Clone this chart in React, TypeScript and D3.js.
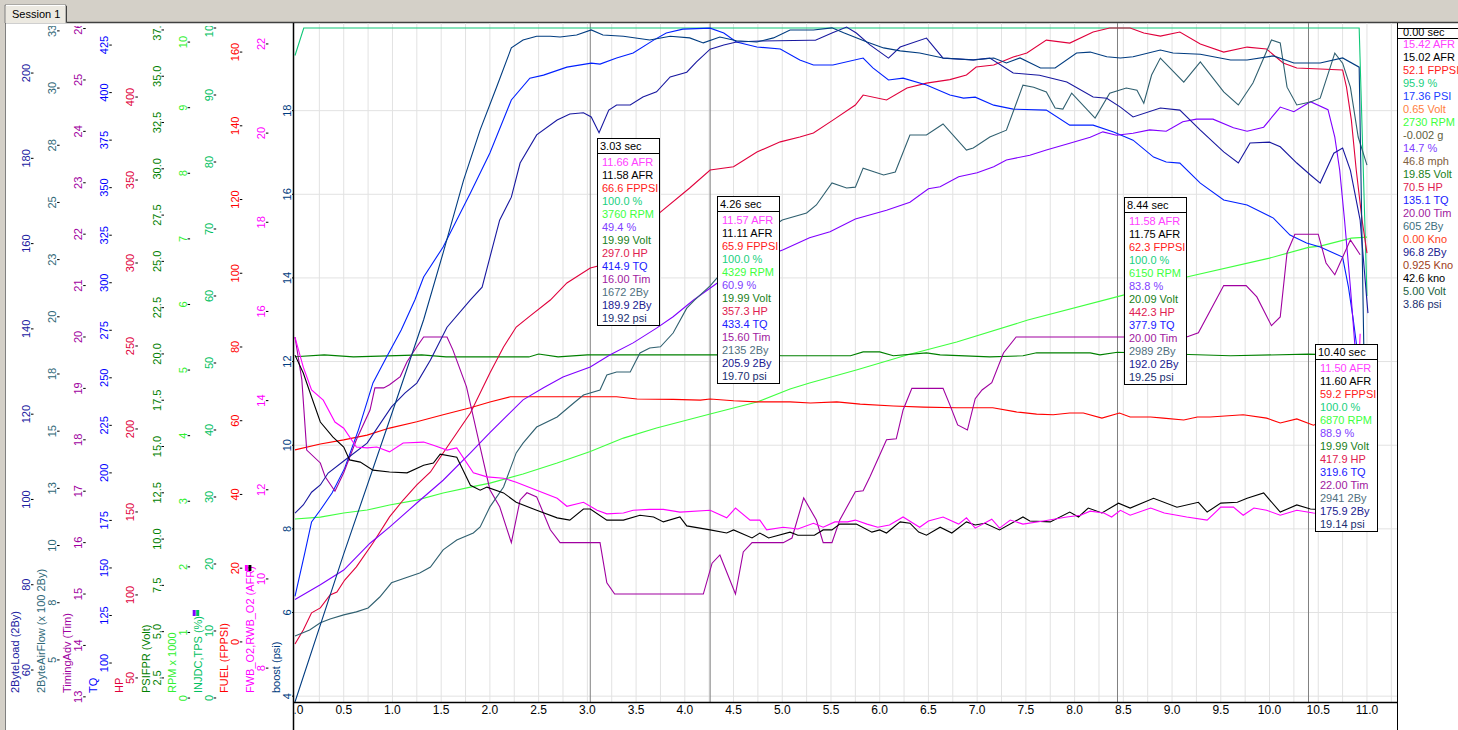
import * as d3 from 'd3';

type Pt = [number, number];

// [time s, value]
const boostPsi: Pt[] = [[0,3.86],[0.5,7.4],[1.0,10.8],[1.32,13.0],[1.52,14.6],[1.73,16.34],[1.9,17.54],[2.07,18.57],[2.22,19.5],[2.34,19.69],[2.48,19.78],[2.62,19.78],[2.72,19.76],[2.89,19.81],[3.04,19.93],[3.16,19.81],[3.37,19.78],[3.64,19.69],[3.85,19.78],[4.05,19.74],[4.19,19.62],[4.36,19.76],[4.53,19.67],[4.74,19.64],[4.91,19.74],[5.08,19.93],[5.32,19.93],[5.51,19.98],[5.63,19.86],[5.87,19.64],[6.04,19.5],[6.21,19.43],[6.41,19.38],[6.65,19.26],[6.96,19.21],[7.17,19.26],[7.3,19.14],[7.44,19.26],[7.65,19.02],[7.8,19.02],[8.02,19.38],[8.16,19.4],[8.33,19.29],[8.47,19.26],[8.6,19.29],[8.88,19.45],[9.01,19.38],[9.29,19.35],[9.6,19.21],[9.77,19.21],[10.04,19.31],[10.25,19.14],[10.52,19.14],[10.75,19.26],[10.92,19.04],[10.98,10.6]];

const load2By: Pt[] = [[0,96.8],[0.085,98.7],[0.17,101.7],[0.26,103.4],[0.34,106.2],[0.51,109.2],[0.74,113.2],[0.99,121.7],[1.13,125],[1.25,127.3],[1.39,132.7],[1.56,140.4],[1.8,146.8],[1.92,149.8],[2.1,165.5],[2.22,170.9],[2.31,178.9],[2.48,185.5],[2.69,189],[2.82,190.4],[2.96,190.7],[3.04,189.7],[3.12,186],[3.22,191.3],[3.3,192.5],[3.44,192.5],[3.57,194.4],[3.71,195.6],[3.85,199.1],[4.02,200.2],[4.12,202.6],[4.26,205.6],[4.4,206.6],[4.53,207.3],[4.77,207.5],[5.28,207.7],[5.34,207.7],[5.51,209.4],[5.66,210.8],[5.76,209.4],[5.9,206.6],[6.09,203.5],[6.21,206.1],[6.48,208.2],[6.65,203.5],[6.96,203.1],[7.13,203.5],[7.37,200],[7.64,199.5],[7.92,197.9],[8.19,194.4],[8.33,194.1],[8.47,192],[8.6,189.7],[8.88,191.8],[9.08,191.3],[9.29,186.6],[9.53,181.5],[9.68,178.9],[9.8,183.6],[10.0,183.8],[10.11,182.7],[10.28,178.9],[10.42,176.1],[10.52,174.2],[10.66,181.2],[10.75,182.4],[10.83,177.2],[10.93,165.5],[11.01,143.7]];

const torque: Pt[] = [[0,135.1],[0.1,157.8],[0.17,174.2],[0.26,180.5],[0.38,189.4],[0.51,202.5],[0.65,222.5],[0.8,247.3],[0.94,260.9],[1.09,275.1],[1.23,290.9],[1.32,303],[1.52,318.8],[1.8,347.2],[2.0,368.2],[2.22,396.1],[2.41,407.6],[2.55,409.2],[2.79,413.4],[3.04,415.5],[3.13,415],[3.3,418.2],[3.47,420.8],[3.68,427.6],[3.81,431.3],[3.98,433.4],[4.26,433.9],[4.4,431.3],[4.53,426.6],[4.74,424],[4.98,422.9],[5.18,417.1],[5.32,414.5],[5.52,414.5],[5.83,418.2],[5.93,413],[6.09,406.6],[6.24,407.6],[6.48,404],[6.72,398.7],[6.86,397.1],[6.98,397.6],[7.17,393.4],[7.37,391.3],[7.71,390.8],[7.95,382.9],[8.19,382.9],[8.4,379.3],[8.6,375],[8.81,366.1],[8.94,363.5],[9.08,362.9],[9.29,352.4],[9.53,343.5],[9.77,340.9],[10.04,334],[10.21,325.1],[10.38,320.9],[10.52,318.8],[10.75,313.5],[10.81,297.7],[10.86,280.4],[10.9,264.6],[10.93,232]];

const power: Pt[] = [[0,70.5],[0.085,78.9],[0.17,89.2],[0.26,92.2],[0.36,100],[0.43,101.8],[0.51,109],[0.63,116.9],[0.8,131.3],[0.97,147],[1.11,157.2],[1.25,166.3],[1.39,174.1],[1.52,185.5],[1.66,197.6],[1.8,209.6],[2.0,233.7],[2.14,249.4],[2.27,261.4],[2.41,268],[2.62,277.7],[2.79,288],[3.03,297],[3.1,298],[3.75,330.7],[4.05,345.2],[4.26,356],[4.5,358],[4.74,366.9],[4.98,373],[5.18,375.9],[5.32,378.3],[5.52,386.1],[5.75,395.2],[5.83,401.2],[6.07,398.2],[6.28,405.4],[6.48,408.4],[6.72,410.5],[6.89,413.3],[6.99,418.1],[7.17,419.3],[7.37,424.1],[7.51,426.5],[7.71,434.3],[7.95,432.5],[8.19,439.2],[8.36,441.6],[8.57,441.6],[8.71,438.6],[8.88,436.7],[9.08,439.2],[9.29,431.9],[9.53,427.1],[9.77,430.1],[9.97,428.9],[10.14,420.5],[10.28,417.5],[10.52,416.9],[10.75,416.3],[10.79,406],[10.84,386.1],[10.89,356],[10.95,325.9],[11.0,306]];

const fuelPress: Pt[] = [[0,52.1],[0.26,53.7],[0.5,54.8],[0.74,56.1],[0.97,58],[1.25,59.7],[1.52,61.6],[1.8,63.5],[2.0,65.1],[2.21,66.5],[3.3,66.5],[3.51,65.9],[3.88,65.8],[4.16,65.6],[4.26,65.9],[4.5,65.4],[4.74,65.1],[5.08,65.1],[5.29,64.8],[5.56,65.1],[5.8,64.5],[6.14,64],[6.45,63.7],[6.79,63.5],[7.16,63.5],[7.4,62.4],[7.61,61.8],[7.78,61.6],[7.95,62.1],[8.09,62.1],[8.28,60.7],[8.46,62.1],[8.57,61],[8.78,61],[8.91,60.7],[9.12,60.2],[9.26,61],[9.39,61],[9.73,61.6],[9.97,60.7],[10.11,59.4],[10.28,60.5],[10.45,58.8],[10.59,60.2],[10.75,60],[10.92,59.5]];

const fprVolt: Pt[] = [[0,19.85],[0.3,19.95],[0.6,19.84],[1.3,19.95],[1.55,19.84],[2.4,19.84],[2.5,20.0],[2.7,19.84],[3.0,19.95],[4.6,19.95],[5.0,19.9],[5.7,19.9],[5.83,20.11],[6.0,20.11],[6.14,19.9],[6.48,20.06],[6.62,19.95],[7.13,19.84],[7.47,19.9],[7.61,20.06],[8.16,20.06],[8.26,19.95],[8.44,20.09],[9.0,20.0],[9.6,19.9],[10.4,19.99],[10.92,19.9]];

const rpm: Pt[] = [[0,2730],[0.26,2759],[0.5,2820],[0.74,2866],[0.97,2942],[1.25,3018],[1.52,3125],[1.8,3216],[2.0,3277],[2.34,3415],[2.69,3582],[3.03,3760],[3.37,3963],[3.71,4116],[4.26,4329],[4.74,4512],[5.08,4710],[5.28,4802],[5.76,5000],[6.28,5229],[6.79,5427],[7.52,5762],[8.5,6143],[9.15,6418],[10.0,6707],[10.4,6870],[10.52,6890],[10.84,7012],[11.0,7027]];

const throttle: Pt[] = [[0,95.9],[0.09,100],[10.92,100],[11.0,60]];

const injDuty: Pt[] = [[0,14.7],[0.26,16.9],[0.5,19.1],[0.77,23.1],[0.97,25.5],[1.25,29.1],[1.52,32.5],[1.8,36.6],[2.0,39.6],[2.34,44.5],[2.55,46.3],[2.75,47.9],[3.03,49.4],[3.23,51.2],[3.47,53],[3.71,55.2],[3.88,56.9],[4.09,59.4],[4.33,61.9],[4.74,65.4],[5.01,66.9],[5.28,68.7],[5.49,69.6],[5.75,71.5],[6.07,72.8],[6.31,74],[6.5,76],[6.62,76.3],[6.81,77.8],[7.0,78.4],[7.17,79.3],[7.3,80.3],[7.54,81],[7.71,81.8],[7.95,82.8],[8.16,83.7],[8.29,84.5],[8.43,84],[8.6,84.3],[8.77,84.8],[8.94,84.6],[9.11,86],[9.25,86.4],[9.42,86.4],[9.63,85.1],[9.77,84.6],[9.94,85.2],[10.11,88.2],[10.25,87.5],[10.42,89],[10.6,87.8],[10.67,83.7],[10.72,78.8],[10.77,71.3],[10.83,61.3],[10.88,51.9],[10.91,43]];

const timing: Pt[] = [[0,20.0],[0.07,19.17],[0.12,17.8],[0.26,17.55],[0.31,17.28],[0.41,17.0],[0.5,17.36],[0.63,18.0],[0.77,18.58],[0.82,19.01],[0.91,19.01],[0.97,19.07],[1.08,19.23],[1.15,19.52],[1.25,19.81],[1.32,20.0],[1.56,20.0],[1.62,19.75],[1.76,19.03],[1.9,17.86],[2.0,17.03],[2.1,16.7],[2.22,16.0],[2.31,16.83],[2.38,16.97],[2.48,16.89],[2.62,16.25],[2.72,16.0],[3.13,16.0],[3.2,15.22],[3.28,15.0],[4.19,15.0],[4.28,15.6],[4.36,15.76],[4.52,15.0],[4.6,15.82],[4.69,16.0],[5.01,16.0],[5.1,16.09],[5.22,16.87],[5.35,16.44],[5.42,16.0],[5.51,16.0],[5.59,16.44],[5.75,16.99],[5.83,17.01],[5.9,17.28],[6.07,18.0],[6.17,18.02],[6.24,18.58],[6.33,19.0],[6.65,19.0],[6.72,18.68],[6.8,18.29],[6.9,18.19],[6.98,18.8],[7.05,18.97],[7.15,19.11],[7.27,19.69],[7.4,20.0],[9.15,20.0],[9.27,20.08],[9.53,21.0],[9.76,21.0],[9.87,20.78],[10.02,20.22],[10.11,20.39],[10.18,21.64],[10.26,22.0],[10.5,22.0],[10.58,21.44],[10.67,21.21],[10.83,21.89],[10.93,21.6]];

const airflow2By: Pt[] = [[0,605],[0.15,631],[0.26,662],[0.36,679],[0.5,697],[0.63,710],[0.75,727],[0.87,775],[0.99,837],[1.13,858],[1.28,880],[1.39,906],[1.52,981],[1.66,1024],[1.83,1055],[1.9,1081],[2.0,1169],[2.14,1256],[2.27,1405],[2.34,1448],[2.48,1518],[2.69,1562],[2.86,1623],[2.96,1658],[3.13,1680],[3.2,1746],[3.3,1759],[3.44,1759],[3.54,1842],[3.64,1864],[3.75,1869],[3.88,1929],[4.02,2038],[4.1,2073],[4.26,2135],[4.4,2204],[4.6,2292],[4.8,2366],[5.0,2423],[5.25,2454],[5.35,2489],[5.51,2585],[5.66,2563],[5.75,2567],[5.83,2650],[6.04,2620],[6.16,2633],[6.31,2795],[6.48,2795],[6.65,2843],[6.89,2729],[6.96,2738],[7.13,2786],[7.3,2816],[7.47,3013],[7.58,3004],[7.71,2983],[7.8,2913],[7.88,2908],[7.97,2978],[8.21,2869],[8.36,2978],[8.53,3000],[8.64,2991],[8.71,2934],[8.79,3057],[8.88,3131],[9.12,3026],[9.29,3114],[9.53,2983],[9.68,2926],[9.83,3022],[10.02,3210],[10.11,3197],[10.18,3004],[10.28,2926],[10.42,2939],[10.52,2956],[10.67,3153],[10.75,3109],[10.83,3004],[10.91,2786],[11.0,2663]];

const afrFront: Pt[] = [[0,15.42],[0.085,14.75],[0.17,14.24],[0.29,14.01],[0.41,13.52],[0.5,13.38],[0.63,12.96],[0.74,12.94],[0.84,12.96],[0.97,12.85],[1.11,13.05],[1.32,13.07],[1.42,13.0],[1.56,12.89],[1.66,12.94],[1.83,12.38],[1.97,12.29],[2.14,12.26],[2.27,12.17],[2.48,11.99],[2.69,11.81],[2.79,11.63],[2.96,11.72],[3.1,11.54],[3.2,11.46],[3.37,11.48],[3.47,11.54],[3.64,11.56],[3.78,11.56],[3.95,11.5],[4.26,11.54],[4.43,11.37],[4.52,11.59],[4.67,11.32],[4.77,11.32],[4.84,11.1],[5.01,11.16],[5.16,11.12],[5.32,11.25],[5.42,11.16],[5.54,11.28],[5.67,11.28],[5.75,11.32],[5.87,11.23],[5.98,11.16],[6.1,11.21],[6.24,11.39],[6.41,11.16],[6.5,11.3],[6.65,11.39],[6.81,11.23],[6.89,11.37],[6.98,11.14],[7.15,11.34],[7.23,11.14],[7.34,11.32],[7.47,11.23],[7.68,11.3],[7.92,11.39],[8.06,11.43],[8.16,11.52],[8.3,11.48],[8.38,11.39],[8.47,11.54],[8.57,11.43],[8.78,11.59],[8.92,11.48],[9.05,11.43],[9.15,11.39],[9.36,11.32],[9.5,11.61],[9.63,11.61],[9.73,11.43],[9.84,11.59],[9.97,11.54],[10.11,11.43],[10.28,11.54],[10.45,11.48],[10.6,11.45],[10.8,11.5],[10.88,12.6],[10.93,15.5]];

const afrRear: Pt[] = [[0,15.02],[0.085,14.62],[0.17,14.08],[0.26,13.52],[0.39,13.18],[0.5,12.96],[0.56,12.67],[0.67,12.62],[0.8,12.44],[0.97,12.4],[1.15,12.38],[1.32,12.55],[1.42,12.6],[1.49,12.8],[1.66,12.73],[1.8,12.1],[1.9,11.99],[1.97,12.06],[2.14,11.93],[2.27,11.72],[2.48,11.54],[2.69,11.37],[2.82,11.32],[2.96,11.57],[3.03,11.57],[3.2,11.32],[3.37,11.32],[3.54,11.43],[3.68,11.39],[3.78,11.28],[3.95,11.39],[4.02,11.19],[4.26,11.1],[4.43,11.03],[4.5,11.1],[4.69,10.92],[4.77,11.03],[4.86,10.92],[5.08,11.05],[5.16,10.98],[5.33,10.98],[5.42,11.1],[5.51,11.1],[5.59,11.23],[5.76,11.23],[5.92,11.05],[6.0,11.1],[6.07,11.03],[6.21,11.28],[6.31,11.25],[6.4,11.05],[6.48,10.98],[6.62,11.16],[6.74,11.03],[6.89,11.28],[6.98,11.21],[7.08,11.25],[7.23,11.1],[7.47,11.39],[7.54,11.3],[7.75,11.28],[7.95,11.5],[8.04,11.39],[8.14,11.59],[8.28,11.48],[8.45,11.7],[8.57,11.59],[8.81,11.81],[9.05,11.61],[9.27,11.72],[9.36,11.5],[9.5,11.7],[9.67,11.72],[9.77,11.81],[9.94,11.93],[10.11,11.5],[10.28,11.66],[10.42,11.57],[10.6,11.55],[10.8,11.6],[10.9,12.8],[10.96,15.2]];

// tick labels
const xTicks = [0, 0.5, 1, 1.5, 2, 2.5, 3, 3.5, 4, 4.5, 5, 5.5, 6, 6.5, 7, 7.5, 8, 8.5, 9, 9.5, 10, 10.5, 11];
const loadTicks = [60, 80, 100, 120, 140, 160, 180, 200];
const airTicks = [5, 7.5, 10, 12.5, 15, 17.5, 20, 22.5, 25, 27.5, 30, 32.5];
const timingTicks = [13, 14, 15, 16, 17, 18, 19, 20, 21, 22, 23, 24, 25, 26];
const tqTicks = [100, 125, 150, 175, 200, 225, 250, 275, 300, 325, 350, 375, 400, 425];
const hpTicks = [50, 100, 150, 200, 250, 300, 350, 400];
const fprTicks = [2.5, 5, 7.5, 10, 12.5, 15, 17.5, 20, 22.5, 25, 27.5, 30, 32.5, 35, 37.5];
const rpmTicks = [0, 1, 2, 3, 4, 5, 6, 7, 8, 9, 10];
const dutyTicks = [0, 10, 20, 30, 40, 50, 60, 70, 80, 90, 100];
const fuelTicks = [0, 20, 40, 60, 80, 100, 120, 140, 160];
const afrTicks = [8, 10, 12, 14, 16, 18, 20, 22];
const boostTicks = [4, 6, 8, 10, 12, 14, 16, 18];

// cursors and their readouts
const cursorTimes = [3.03, 4.26, 8.44, 10.4];
const tipUnits = ['AFR', 'AFR', 'FPPSI', '%', 'RPM', '%', 'Volt', 'HP', 'TQ', 'Tim', '2By', '2By', 'psi'];
const tipValues = [
  ['11.66', '11.58', '66.6', '100.0', '3760', '49.4', '19.99', '297.0', '414.9', '16.00', '1672', '189.9', '19.92'],
  ['11.57', '11.11', '65.9', '100.0', '4329', '60.9', '19.99', '357.3', '433.4', '15.60', '2135', '205.9', '19.70'],
  ['11.58', '11.75', '62.3', '100.0', '6150', '83.8', '20.09', '442.3', '377.9', '20.00', '2989', '192.0', '19.25'],
  ['11.50', '11.60', '59.2', '100.0', '6870', '88.9', '19.99', '417.9', '319.6', '22.00', '2941', '175.9', '19.14'],
];
const tipColors = ['#ff40ff', '#000000', '#ff2020', '#20d080', '#40ff40', '#8040ff', '#208020', '#e02050', '#2020ff', '#a020a0', '#507080', '#202090', '#203070'];
const tipTops = [138, 196, 197, 344];

const legendTexts = ['15.42 AFR', '15.02 AFR', '52.1 FPPSI', '95.9 %', '17.36 PSI', '0.65 Volt', '2730 RPM', '-0.002 g', '14.7 %', '46.8 mph', '19.85 Volt', '70.5 HP', '135.1 TQ', '20.00 Tim', '605 2By', '0.00 Kno', '96.8 2By', '0.925 Kno', '42.6 kno', '5.00 Volt', '3.86 psi'];
const legendColors = ['#ff40ff', '#000000', '#ff2020', '#20d080', '#2040ff', '#ff8040', '#40ff40', '#606040', '#8040ff', '#806040', '#208020', '#e02050', '#2020ff', '#a020a0', '#407080', '#ff4020', '#202090', '#a04020', '#000000', '#206040', '#203070'];

const FONT = "'Liberation Sans', Arial, sans-serif";
const TOP = 27;
const BOTTOM = 702;

const num = (v: number) => String(v);
const axes = [
  { key: 'load', title: '2ByteLoad (2By)', color: '#2020a0', domain: [52.5, 210.8], ticks: loadTicks, fmt: num },
  { key: 'air', title: '2ByteAirFlow (x 100 2By)', color: '#306878', domain: [3.16, 32.67], ticks: airTicks, fmt: (v: number) => String(Math.round(v)) },
  { key: 'timing', title: 'TimingAdv (Tim)', color: '#a000a0', domain: [12.9, 26.03], ticks: timingTicks, fmt: num },
  { key: 'tq', title: 'TQ', color: '#0000ff', domain: [79.5, 434.5], ticks: tqTicks, fmt: num },
  { key: 'hp', title: 'HP', color: '#e0003c', domain: [35.5, 442.2], ticks: hpTicks, fmt: num },
  { key: 'fpr', title: 'PSIFPR (Volt)', color: '#008000', domain: [1.2, 37.66], ticks: fprTicks, fmt: (v: number) => v.toFixed(1) },
  { key: 'rpm', title: 'RPM x 1000', color: '#30f030', domain: [-0.06, 10.23], ticks: rpmTicks, fmt: num },
  { key: 'duty', title: 'INJDC,TPS (%)', color: '#00c060', domain: [-0.6, 100.15], ticks: dutyTicks, fmt: num, marks: ['#8000ff', '#00c060'], markY: 610 },
  { key: 'fuel', title: 'FUEL (FPPSI)', color: '#ff0000', domain: [-16.3, 166.8], ticks: fuelTicks, fmt: num },
  { key: 'afr', title: 'FWB_O2,RWB_O2 (AFR)', color: '#ff00ff', domain: [7.24, 22.38], ticks: afrTicks, fmt: num, marks: ['#ff00ff', '#000000'], markY: 565 },
  { key: 'boost', title: 'boost (psi)', color: '#003c80', domain: [3.86, 20], ticks: boostTicks, fmt: num },
];

const series = [
  { data: throttle, axis: 'duty', div: 1, color: '#10c878' },
  { data: rpm, axis: 'rpm', div: 1000, color: '#40ff40' },
  { data: fprVolt, axis: 'fpr', div: 1, color: '#008000' },
  { data: fuelPress, axis: 'fuel', div: 1, color: '#ff0000' },
  { data: power, axis: 'hp', div: 1, color: '#e0003c' },
  { data: torque, axis: 'tq', div: 1, color: '#0020ff' },
  { data: injDuty, axis: 'duty', div: 1, color: '#8000ff' },
  { data: timing, axis: 'timing', div: 1, color: '#a000a0' },
  { data: airflow2By, axis: 'air', div: 100, color: '#306070' },
  { data: load2By, axis: 'load', div: 1, color: '#1818a0' },
  { data: boostPsi, axis: 'boost', div: 1, color: '#003c80' },
  { data: afrRear, axis: 'afr', div: 1, color: '#000000' },
  { data: afrFront, axis: 'afr', div: 1, color: '#ff00ff' },
];

export default function App() {
  const x = d3.scaleLinear().domain([0, 11.3]).range([295, 1396.2]);
  const y: Record<string, d3.ScaleLinear<number, number>> = {};
  axes.forEach((a) => {
    y[a.key] = d3.scaleLinear().domain(a.domain).range([BOTTOM, TOP]);
  });
  const gridX = d3.range(0.25, 11.3, 0.25);

  return (
    <>
      <style>{'body{margin:0}'}</style>
      <svg width={1458} height={730} style={{ display: 'block', fontFamily: FONT }}>
        <defs>
          <clipPath id="plotClip">
            <rect x={294} y={23} width={1103} height={BOTTOM - 23} />
          </clipPath>
          <clipPath id="leftClip">
            <rect x={6} y={26} width={288} height={704} />
          </clipPath>
          <clipPath id="xClip">
            <rect x={294.5} y={703} width={1102} height={27} />
          </clipPath>
        </defs>

        {/* window chrome */}
        <rect width={1458} height={730} fill="#d4d0c8" />
        <rect x={6} y={23} width={1452} height={707} fill="#fff" />
        <line x1={5.5} x2={5.5} y1={22} y2={730} stroke="#808080" />
        <line x1={5} x2={1458} y1={22.5} y2={22.5} stroke="#404040" strokeWidth={1.5} />
        <path d="M5,23 V5 H66 V23" fill="#ece9e1" stroke="#808080" />
        <line x1={6} x2={65} y1={5.5} y2={5.5} stroke="#fff" />
        <line x1={66.5} x2={66.5} y1={6} y2={22} stroke="#404040" />
        <text x={12} y={18} fontSize={11} fill="#000">Session 1</text>

        {/* grid */}
        <g clipPath="url(#plotClip)">
          {gridX.map((t) => (
            <line key={t} x1={x(t)} x2={x(t)} y1={23} y2={BOTTOM} stroke="#e2e2e2" />
          ))}
          {boostTicks.map((v) => (
            <line key={v} x1={294} x2={1397} y1={y.boost(v)} y2={y.boost(v)} stroke="#e2e2e2" />
          ))}
          {cursorTimes.map((t) => (
            <line key={t} x1={x(t)} x2={x(t)} y1={23} y2={BOTTOM} stroke="#808080" />
          ))}
          {series.map((s, i) => (
            <path
              key={i}
              d={d3.line<Pt>().x((d) => x(d[0])).y((d) => y[s.axis](d[1] / s.div))(s.data) ?? ''}
              fill="none"
              stroke={s.color}
              strokeWidth={1.1}
            />
          ))}
        </g>

        {/* frame */}
        <line x1={293.5} x2={293.5} y1={23} y2={730} stroke="#000" strokeWidth={1.5} />
        <line x1={1397.5} x2={1397.5} y1={23} y2={730} stroke="#000" />
        <line x1={293} x2={1397} y1={702.5} y2={702.5} stroke="#000" strokeWidth={1.5} />

        {/* stacked left axes */}
        <g clipPath="url(#leftClip)">
          {axes.map((a, i) => {
            const dx = 31 + i * 26.1;
            return (
              <g key={a.key}>
                {a.ticks.map((v) => (
                  <g key={v}>
                    <text
                      transform={`translate(${dx - 1},${y[a.key](v)}) rotate(-90)`}
                      textAnchor="middle"
                      fontSize={11}
                      fill={a.color}
                    >
                      {a.fmt(v)}
                    </text>
                    <line x1={dx} x2={dx + 2.5} y1={y[a.key](v)} y2={y[a.key](v)} stroke="#000" />
                  </g>
                ))}
                <text transform={`translate(${dx - 12},693) rotate(-90)`} fontSize={11} fill={a.color}>
                  {a.title}
                </text>
                {a.marks &&
                  a.marks.map((c, k) => (
                    <rect key={k} x={dx - 21 + k * 3.5} y={a.markY} width={3} height={6} fill={c} />
                  ))}
              </g>
            );
          })}
        </g>

        {/* time axis */}
        <g clipPath="url(#xClip)">
          {xTicks.map((t) => (
            <text
              key={t}
              x={x(t)}
              y={714}
              textAnchor="middle"
              fontSize={12}
              fill="#000"
              fontFamily="'Liberation Sans Narrow', 'Arial Narrow', 'Liberation Sans', sans-serif"
            >
              {t.toFixed(1)}
            </text>
          ))}
        </g>

        {/* cursor readouts */}
        {cursorTimes.map((t, c) => {
          const left = Math.round(x(t)) + 7;
          const top = tipTops[c];
          return (
            <g key={t}>
              <rect x={left + 0.5} y={top + 0.5} width={62} height={187} fill="#fff" stroke="#000" />
              <text x={left + 3} y={top + 11.5} fontSize={11} fill="#000">
                {t.toFixed(2)} sec
              </text>
              <line x1={left} x2={left + 63} y1={top + 15.5} y2={top + 15.5} stroke="#000" />
              {tipValues[c].map((v, r) => (
                <text key={r} x={left + 5} y={top + 28 + r * 13} fontSize={11} fill={tipColors[r]}>
                  {v} {tipUnits[r]}
                </text>
              ))}
            </g>
          );
        })}

        {/* start readout panel */}
        <line x1={1397} x2={1458} y1={28.5} y2={28.5} stroke="#000" />
        <text x={1403} y={36} fontSize={11} fill="#000">0.00 sec</text>
        <line x1={1397} x2={1458} y1={38.5} y2={38.5} stroke="#000" />
        {legendTexts.map((s, r) => (
          <text key={r} x={1403} y={48 + r * 13} fontSize={11} fill={legendColors[r]}>
            {s}
          </text>
        ))}
      </svg>
    </>
  );
}
